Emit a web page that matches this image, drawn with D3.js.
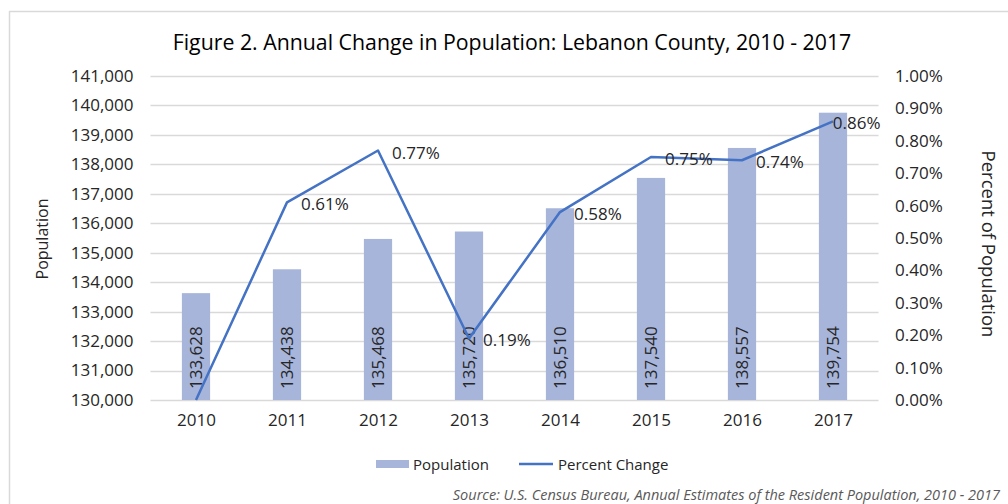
<!DOCTYPE html>
<html>
<head>
<meta charset="utf-8">
<script src="https://cdn.jsdelivr.net/npm/d3@7"></script>
<style>
  body { margin: 0; background: #fff; }
  svg { display: block; font-family: "Open Sans", sans-serif; }
</style>
</head>
<body>
<div id="chart"></div>
<script>
// data
var years = ["2010", "2011", "2012", "2013", "2014", "2015", "2016", "2017"];
var population = [133628, 134438, 135468, 135720, 136510, 137540, 138557, 139754];
var pctChange = [0, 0.0061, 0.0077, 0.0019, 0.0058, 0.0075, 0.0074, 0.0086];
var pctLabels = [null, "0.61%", "0.77%", "0.19%", "0.58%", "0.75%", "0.74%", "0.86%"];
var popTicks = d3.range(130000, 141001, 1000);
var pctTicks = d3.range(0, 11).map(function(i) { return i / 1000; });

function drawChart() {
var width = 1008, height = 504;
var plotLeft = 150.5, plotRight = 878.5, plotTop = 76, plotBottom = 400;
var barColor = "#A7B5DB", lineColor = "#4472C4", gridColor = "#D9D9D9", textColor = "#262626";

var svg = d3.select("#chart").append("svg")
    .attr("width", width)
    .attr("height", height);

// outer frame (runs off the right and bottom edges)
svg.append("line")
    .attr("x1", 9.5).attr("x2", 9.5).attr("y1", 11).attr("y2", height)
    .attr("stroke", gridColor).attr("stroke-width", 1.5);
svg.append("line")
    .attr("x1", 9).attr("x2", width).attr("y1", 11.5).attr("y2", 11.5)
    .attr("stroke", gridColor).attr("stroke-width", 1.5);

svg.append("text")
    .attr("x", 512).attr("y", 50)
    .attr("text-anchor", "middle")
    .attr("font-size", 21.3)
    .attr("fill", "#000")
    .text("Figure 2. Annual Change in Population: Lebanon County, 2010 - 2017");

var x = d3.scaleBand().domain(years).range([plotLeft, plotRight]).paddingInner(0.69).paddingOuter(0.345);
var xc = d3.scalePoint().domain(years).range([plotLeft, plotRight]).padding(0.5);
var y = d3.scaleLinear().domain([130000, 141000]).range([plotBottom, plotTop]);
var y2 = d3.scaleLinear().domain([0, 0.01]).range([plotBottom, plotTop]);

// gridlines
svg.append("g").selectAll("line")
  .data(popTicks)
  .enter().append("line")
    .attr("x1", plotLeft).attr("x2", plotRight)
    .attr("y1", function(d) { return Math.round(y(d)) + 0.5; })
    .attr("y2", function(d) { return Math.round(y(d)) + 0.5; })
    .attr("stroke", gridColor)
    .attr("stroke-width", 1.3);

// left axis
var yAxis = svg.append("g")
    .attr("transform", "translate(" + (plotLeft - 17) + ",0)")
    .call(d3.axisLeft(y).tickValues(popTicks).tickFormat(d3.format(",")).tickSize(0).tickPadding(0));
yAxis.select(".domain").remove();
yAxis.selectAll("text").attr("font-size", 17).attr("fill", textColor).attr("font-family", "Open Sans");

// right axis
var y2Axis = svg.append("g")
    .attr("transform", "translate(" + 895 + ",0)")
    .call(d3.axisRight(y2).tickValues(pctTicks).tickFormat(d3.format(".2%")).tickSize(0).tickPadding(0));
y2Axis.select(".domain").remove();
y2Axis.selectAll("text").attr("font-size", 17).attr("fill", textColor).attr("font-family", "Open Sans");

// x axis
var xAxis = svg.append("g")
    .attr("transform", "translate(0," + (plotBottom + 14) + ")")
    .call(d3.axisBottom(xc).tickSize(0).tickPadding(0));
xAxis.select(".domain").remove();
xAxis.selectAll("text").attr("font-size", 17).attr("fill", textColor).attr("font-family", "Open Sans");

// bars
svg.append("g").selectAll("rect")
  .data(population)
  .enter().append("rect")
    .attr("x", function(d, i) { return x(years[i]); })
    .attr("y", function(d) { return y(d); })
    .attr("width", x.bandwidth())
    .attr("height", function(d) { return plotBottom - y(d); })
    .attr("fill", barColor);

// bar labels, rotated, at the base
svg.append("g").selectAll("text")
  .data(population)
  .enter().append("text")
    .attr("transform", function(d, i) {
      return "translate(" + (xc(years[i]) + 6) + "," + (plotBottom - 11) + ") rotate(-90)";
    })
    .attr("font-size", 17)
    .attr("fill", textColor)
    .text(function(d) { return d3.format(",")(d); });

// line
var line = d3.line()
    .x(function(d, i) { return xc(years[i]); })
    .y(function(d) { return y2(d); });
svg.append("path")
    .datum(pctChange)
    .attr("d", line)
    .attr("fill", "none")
    .attr("stroke", lineColor)
    .attr("stroke-width", 2.5)
    .attr("stroke-linejoin", "round");

// line labels, to the right of each point, kept inside the plot
var labelled = d3.range(pctChange.length).filter(function(i) { return pctLabels[i] != null; });
svg.append("g").selectAll("text")
  .data(labelled)
  .enter().append("text")
    .attr("y", function(i) { return y2(pctChange[i]) + 8; })
    .attr("font-size", 17)
    .attr("fill", textColor)
    .text(function(i) { return pctLabels[i]; })
    .attr("x", function(i) {
      var w = this.getComputedTextLength();
      return Math.min(xc(years[i]) + 14, plotRight + 2 - w);
    });

// axis titles
svg.append("text")
    .attr("transform", "translate(48,239) rotate(-90)")
    .attr("text-anchor", "middle")
    .attr("font-size", 16)
    .attr("fill", textColor)
    .text("Population");
svg.append("text")
    .attr("transform", "translate(982,244) rotate(90)")
    .attr("text-anchor", "middle")
    .attr("font-size", 18.5)
    .attr("fill", textColor)
    .text("Percent of Population");

// legend
var legend = svg.append("g").attr("transform", "translate(0,464)");
legend.append("rect")
    .attr("x", 376).attr("y", -4).attr("width", 33).attr("height", 8)
    .attr("fill", barColor);
legend.append("text")
    .attr("x", 413).attr("y", 5.5)
    .attr("font-size", 15).attr("fill", textColor)
    .text("Population");
legend.append("line")
    .attr("x1", 519).attr("x2", 553).attr("y1", 0).attr("y2", 0)
    .attr("stroke", lineColor).attr("stroke-width", 2.5);
legend.append("text")
    .attr("x", 558).attr("y", 5.5)
    .attr("font-size", 15).attr("fill", textColor)
    .text("Percent Change");

// source note
svg.append("text")
    .attr("x", 1000).attr("y", 500)
    .attr("text-anchor", "end")
    .attr("font-size", 14.5)
    .attr("font-style", "italic")
    .attr("fill", "#595959")
    .text("Source: U.S. Census Bureau, Annual Estimates of the Resident Population, 2010 - 2017");
}

drawChart();
</script>
</body>
</html>
